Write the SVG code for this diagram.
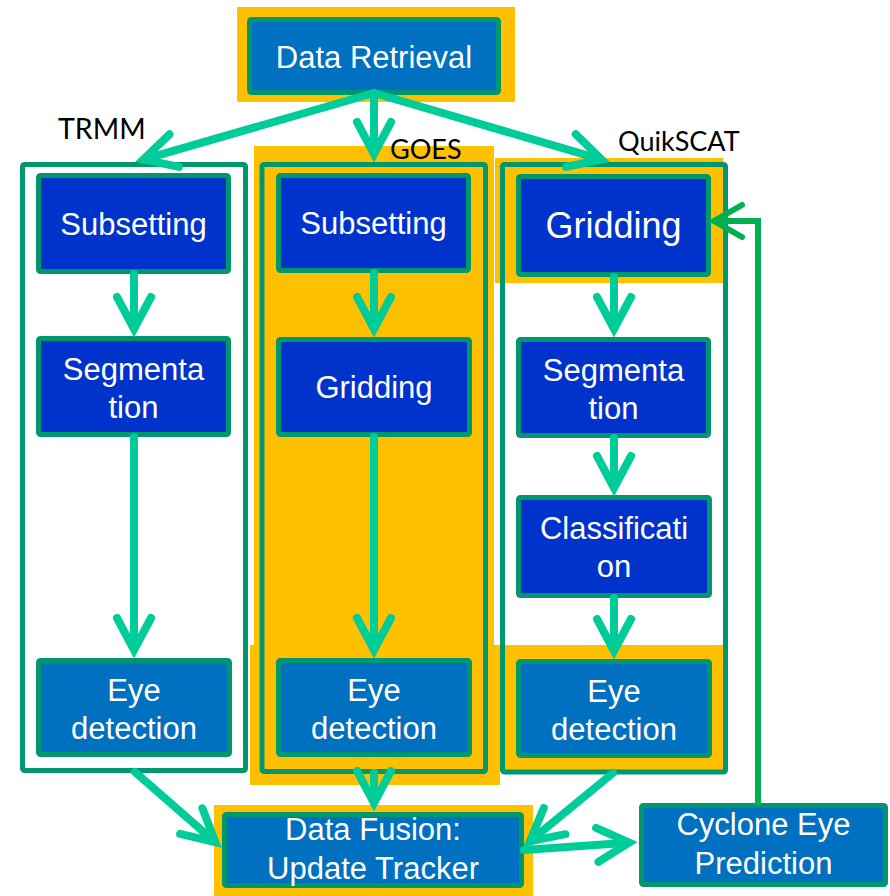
<svg xmlns="http://www.w3.org/2000/svg" width="890" height="896" viewBox="0 0 890 896">
  <style>
    .hl { fill: #FFC000; }
    .col { fill: none; stroke: #00966E; stroke-width: 5; }
    .box { stroke: #00966E; stroke-width: 5; }
    .dark { fill: #0033CC; }
    .light { fill: #0070C0; }
    .txt { font-family: "Liberation Sans", Arial, sans-serif; font-size: 31px; fill: #FFFFFF; text-anchor: middle; }
    .big { font-size: 36px; }
    .lbl { font-family: Lato, "Liberation Sans", sans-serif; font-size: 27px; fill: #000000; }
    .lbl-wide { font-size: 28.5px; }
    .arr { fill: none; stroke: #00CC99; stroke-width: 8; stroke-linecap: round; marker-end: url(#head); }
    .fb { fill: none; stroke: #00B050; stroke-width: 6; stroke-linecap: round; stroke-linejoin: miter; marker-end: url(#headFb); }
  </style>
  <defs>
    <marker id="head" markerUnits="userSpaceOnUse" orient="auto" refX="-5" refY="0" markerWidth="60" markerHeight="60" overflow="visible">
      <path d="M -32 -17 L 0 0 L -32 17" fill="none" stroke="#00CC99" stroke-width="8" stroke-linecap="round" stroke-linejoin="miter"/>
    </marker>
    <marker id="headFb" markerUnits="userSpaceOnUse" orient="auto" refX="-4" refY="0" markerWidth="60" markerHeight="60" overflow="visible">
      <path d="M -28 -16 L 0 0 L -28 16" fill="none" stroke="#00B050" stroke-width="6" stroke-linecap="round" stroke-linejoin="miter"/>
    </marker>
  </defs>

  <rect width="890" height="896" fill="#FFFFFF"/>

  <!-- highlight backgrounds -->
  <g id="highlights">
    <rect class="hl" x="237" y="7" width="278" height="95"/>
    <rect class="hl" x="254" y="146" width="240" height="639"/>
    <rect class="hl" x="250" y="645" width="250" height="140"/>
    <rect class="hl" x="495" y="158" width="228" height="125"/>
    <rect class="hl" x="495" y="645" width="228" height="126"/>
    <rect class="hl" x="214" y="805" width="319" height="91"/>
  </g>

  <!-- sensor columns -->
  <g id="col-trmm">
    <rect class="col" x="22.5" y="164.5" width="223" height="606" rx="2" fill="#FFFFFF"/>
    <text class="lbl lbl-wide" x="58" y="139">TRMM</text>
  </g>
  <g id="col-goes">
    <rect class="col" x="262" y="164.5" width="223.5" height="607" rx="2"/>
    <text class="lbl" x="390" y="159">GOES</text>
  </g>
  <g id="col-quikscat">
    <rect class="col" x="502.5" y="164.5" width="223" height="607.5" rx="2"/>
    <text class="lbl" x="618" y="151">QuikSCAT</text>
  </g>

  <!-- nodes -->
  <g id="data-retrieval">
    <rect class="box light" x="249.5" y="19.5" width="249" height="73" rx="2"/>
    <text class="txt" x="374" y="68">Data Retrieval</text>
  </g>

  <g id="trmm-subsetting">
    <rect class="box dark" x="38.5" y="175.5" width="190" height="96" rx="2"/>
    <text class="txt" x="133.5" y="235">Subsetting</text>
  </g>
  <g id="trmm-segmentation">
    <rect class="box dark" x="38.5" y="338.5" width="190" height="96" rx="2"/>
    <text class="txt" x="133.5" y="380">Segmenta</text>
    <text class="txt" x="133.5" y="418">tion</text>
  </g>
  <g id="trmm-eye">
    <rect class="box light" x="38.5" y="660.5" width="191" height="94" rx="2"/>
    <text class="txt" x="134" y="701">Eye</text>
    <text class="txt" x="134" y="739">detection</text>
  </g>

  <g id="goes-subsetting">
    <rect class="box dark" x="278.5" y="175.5" width="190" height="95" rx="2"/>
    <text class="txt" x="373.5" y="234">Subsetting</text>
  </g>
  <g id="goes-gridding">
    <rect class="box dark" x="278.5" y="339.5" width="191" height="95" rx="2"/>
    <text class="txt" x="374" y="398">Gridding</text>
  </g>
  <g id="goes-eye">
    <rect class="box light" x="278.5" y="660.5" width="191" height="94" rx="2"/>
    <text class="txt" x="374" y="701">Eye</text>
    <text class="txt" x="374" y="739">detection</text>
  </g>

  <g id="quikscat-gridding">
    <rect class="box dark" x="518.5" y="176.5" width="190" height="98" rx="2"/>
    <text class="txt big" x="613.5" y="238">Gridding</text>
  </g>
  <g id="quikscat-segmentation">
    <rect class="box dark" x="518.5" y="339.5" width="190" height="96" rx="2"/>
    <text class="txt" x="613.5" y="381">Segmenta</text>
    <text class="txt" x="613.5" y="419">tion</text>
  </g>
  <g id="quikscat-classification">
    <rect class="box dark" x="518.5" y="497.5" width="191" height="98" rx="2"/>
    <text class="txt" x="614" y="539">Classificati</text>
    <text class="txt" x="614" y="577">on</text>
  </g>
  <g id="quikscat-eye">
    <rect class="box light" x="518.5" y="661.5" width="191" height="94" rx="2"/>
    <text class="txt" x="614" y="702">Eye</text>
    <text class="txt" x="614" y="740">detection</text>
  </g>

  <g id="data-fusion">
    <rect class="box light" x="224.5" y="814.5" width="297" height="71" rx="2"/>
    <text class="txt" x="373" y="840">Data Fusion:</text>
    <text class="txt" x="373" y="879">Update Tracker</text>
  </g>

  <g id="cyclone-prediction">
    <rect class="box light" x="641.5" y="805.5" width="244" height="79" rx="2"/>
    <text class="txt" x="763.5" y="835">Cyclone Eye</text>
    <text class="txt" x="763.5" y="874">Prediction</text>
  </g>

  <!-- connectors -->
  <g id="connectors">
    <path class="arr" d="M 374 93 L 148.2 158.1"/>
    <path class="arr" d="M 374 93 L 374 149"/>
    <path class="arr" d="M 374 93 L 596.8 158.1"/>

    <path class="arr" d="M 134 274 L 134 324"/>
    <path class="arr" d="M 134 437 L 134 645"/>

    <path class="arr" d="M 374 273 L 374 324"/>
    <path class="arr" d="M 374 437 L 374 645"/>

    <path class="arr" d="M 614 277 L 614 324"/>
    <path class="arr" d="M 614 438 L 614 483"/>
    <path class="arr" d="M 614 598 L 614 646"/>

    <path class="arr" d="M 135 772 L 211.6 838.9"/>
    <path class="arr" d="M 374 773 L 374 798"/>
    <path class="arr" d="M 613 773 L 533.7 838.2"/>

    <path class="arr" d="M 524 850 L 624.2 843"/>

    <path class="fb" d="M 758 803 L 758 221 L 718 221"/>
  </g>
</svg>
